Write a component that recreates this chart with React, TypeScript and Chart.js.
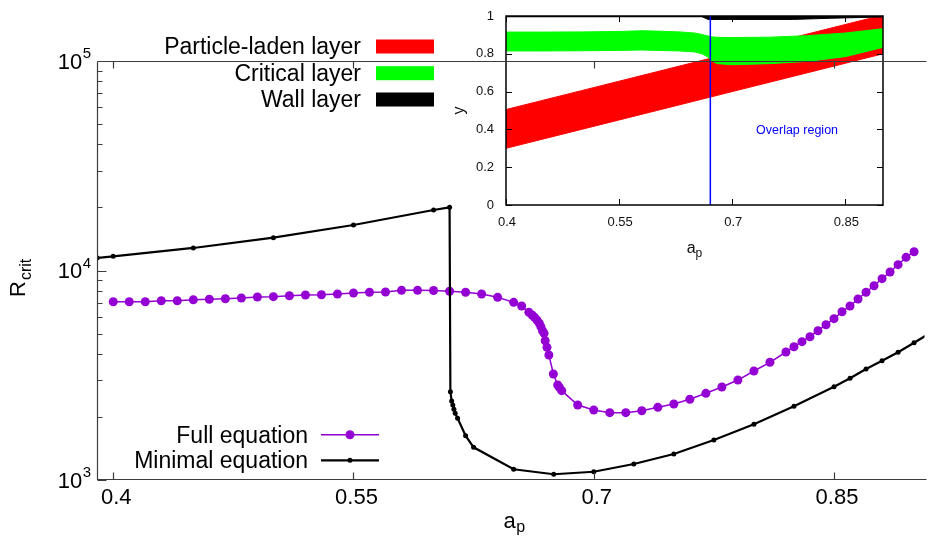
import React, { useEffect, useRef } from 'react';
import { Chart, registerables } from 'chart.js';

Chart.register(...registerables);

const FONT = '"Liberation Sans", Arial, Helvetica, sans-serif';

// ---------- main chart data ----------
const mainXTicks = [0.4, 0.55, 0.7, 0.85];
const mainYMajor = [1000, 10000, 100000];
const mainYMinor = [2000, 3000, 4000, 5000, 6000, 7000, 8000, 9000, 20000, 30000, 40000, 50000, 60000, 70000, 80000, 90000];

const fullX = [
  0.40, 0.41, 0.42, 0.43, 0.44, 0.45, 0.46, 0.47, 0.48, 0.49,
  0.50, 0.51, 0.52, 0.53, 0.54, 0.55, 0.56, 0.57, 0.58, 0.59,
  0.60, 0.61, 0.62, 0.63, 0.64, 0.65, 0.655, 0.6595, 0.6615, 0.663,
  0.6645, 0.666, 0.667, 0.668, 0.669, 0.6697, 0.6708, 0.672, 0.6748, 0.6775,
  0.6785, 0.68, 0.69, 0.70, 0.71, 0.72, 0.73, 0.74, 0.75, 0.76,
  0.77, 0.78, 0.79, 0.80, 0.81, 0.82, 0.825, 0.83, 0.835, 0.84,
  0.845, 0.85, 0.855, 0.86, 0.865, 0.87, 0.875, 0.88, 0.885, 0.89,
  0.895, 0.90,
];
const fullY = [
  7097, 7097, 7097, 7175, 7175, 7255, 7287, 7335, 7392, 7474,
  7499, 7580, 7638, 7665, 7723, 7808, 7870, 7895, 8043, 8043,
  8025, 7965, 7870, 7723, 7448, 7047, 6767, 6318, 6133, 5980,
  5803, 5598, 5393, 5160, 5013, 4623, 4299, 3951, 3206, 2841,
  2770, 2669, 2280, 2158, 2096, 2096, 2142, 2223, 2306, 2428,
  2593, 2780, 3000, 3313, 3646, 4083, 4328, 4573, 4831, 5160,
  5511, 5888, 6358, 6767, 7311, 7870, 8461, 9140, 9836, 10660,
  11560, 12290,
];

const minimalX = [
  0.39, 0.40, 0.45, 0.50, 0.55, 0.60, 0.61, 0.6105, 0.6113, 0.612,
  0.6127, 0.6135, 0.615, 0.62, 0.625, 0.65, 0.675, 0.70, 0.725, 0.75,
  0.775, 0.80, 0.825, 0.85, 0.86, 0.87, 0.88, 0.89, 0.90, 0.91,
];
const minimalY = [
  11480, 11690, 12810, 14340, 16490, 19450, 20030, 2640, 2383, 2280,
  2175, 2080, 1970, 1627, 1432, 1125, 1065, 1095, 1192, 1331,
  1552, 1845, 2250, 2788, 3058, 3387, 3712, 4070, 4523, 5030,
];

// ---------- inset data ----------
const insetXTicks = [0.4, 0.55, 0.7, 0.85];
const insetYTicks = [0, 0.2, 0.4, 0.6, 0.8, 1];

const particleX = [0.4, 0.5, 0.6, 0.7, 0.8, 0.9];
const particleLower = [0.30, 0.40, 0.50, 0.60, 0.70, 0.80];
const particleUpper = [0.505, 0.605, 0.705, 0.805, 0.905, 1.005];

const criticalX = [0.4, 0.45, 0.5, 0.55, 0.58, 0.6, 0.63, 0.65, 0.66, 0.667, 0.672, 0.68, 0.7, 0.75, 0.8, 0.85, 0.9];
const criticalLower = [0.815, 0.815, 0.816, 0.818, 0.82, 0.818, 0.815, 0.81, 0.80, 0.785, 0.765, 0.748, 0.742, 0.748, 0.76, 0.785, 0.834];
const criticalUpper = [0.915, 0.915, 0.916, 0.918, 0.922, 0.92, 0.916, 0.91, 0.902, 0.895, 0.89, 0.887, 0.886, 0.888, 0.896, 0.91, 0.933];

const wallX = [0.4, 0.66, 0.668, 0.78, 0.83, 0.9];
const wallLower = [0.996, 0.996, 0.982, 0.982, 0.988, 0.995];
const wallUpper = [1, 1, 1, 1, 1, 1];

const overlapX = 0.671;
const overlapLine = [0, 1];

const pts = (xs: number[], ys: number[]) => xs.map((x, i) => ({ x, y: ys[i] }));

const mainDecor = {
  id: 'mainDecor',
  afterDraw(chart: any) {
    const { ctx, chartArea: a, scales } = chart;
    const xs = scales.x;
    const ys = scales.y;
    ctx.save();
    ctx.strokeStyle = '#3c3c3c';
    ctx.lineWidth = 1.2;
    const top = Math.round(a.top) + 0.5;
    const bot = Math.round(a.bottom) - 0.5;
    const left = Math.round(a.left) - 0.5;
    ctx.beginPath();
    ctx.moveTo(left, top);
    ctx.lineTo(a.right + 2, top);
    ctx.moveTo(left, top);
    ctx.lineTo(left, bot);
    ctx.lineTo(a.right + 2, bot);
    for (const v of mainXTicks) {
      const px = Math.round(xs.getPixelForValue(v)) + 0.5;
      ctx.moveTo(px, bot);
      ctx.lineTo(px, bot - 7);
      ctx.moveTo(px, top);
      ctx.lineTo(px, top + 7);
    }
    for (const v of mainYMajor) {
      const py = Math.round(ys.getPixelForValue(v)) + 0.5;
      ctx.moveTo(left, py);
      ctx.lineTo(left + 9, py);
    }
    for (const v of mainYMinor) {
      const py = Math.round(ys.getPixelForValue(v)) + 0.5;
      ctx.moveTo(left, py);
      ctx.lineTo(left + 5, py);
    }
    ctx.stroke();

    // y tick labels 10^n
    ctx.fillStyle = '#000';
    ctx.textBaseline = 'alphabetic';
    ctx.textAlign = 'right';
    for (const v of mainYMajor) {
      const py = ys.getPixelForValue(v);
      const exp = String(Math.round(Math.log10(v)));
      const right = a.left - 7;
      ctx.font = `15px ${FONT}`;
      ctx.fillText(exp, right, py - 3);
      const w = ctx.measureText(exp).width;
      ctx.font = `22px ${FONT}`;
      ctx.fillText('10', right - w - 0.5, py + 7.5);
    }

    // y title R_crit
    ctx.save();
    ctx.translate(25, 297);
    ctx.rotate(-Math.PI / 2);
    ctx.textAlign = 'left';
    ctx.font = `22px ${FONT}`;
    ctx.fillText('R', 0, 0);
    const rw = ctx.measureText('R').width;
    ctx.font = `16px ${FONT}`;
    ctx.fillText('crit', rw + 1, 6);
    ctx.restore();

    // x title a_p
    ctx.textAlign = 'left';
    ctx.font = `22px ${FONT}`;
    const aw = ctx.measureText('a').width;
    ctx.font = `16px ${FONT}`;
    const pw = ctx.measureText('p').width;
    const cx = (a.left + a.right) / 2 + 3;
    const sx = cx - (aw + pw + 0.5) / 2;
    ctx.font = `22px ${FONT}`;
    ctx.fillText('a', sx, 528);
    ctx.font = `16px ${FONT}`;
    ctx.fillText('p', sx + aw + 0.5, 532);

    // inset legend (top-left)
    ctx.font = `23px ${FONT}`;
    ctx.textAlign = 'right';
    const layerLegend = [
      { t: 'Particle-laden layer', c: '#ff0000', b: 54 },
      { t: 'Critical layer', c: '#00ff00', b: 80.7 },
      { t: 'Wall layer', c: '#000000', b: 107 },
    ];
    for (const it of layerLegend) {
      ctx.fillStyle = '#000';
      ctx.fillText(it.t, 361, it.b);
      ctx.fillStyle = it.c;
      ctx.fillRect(376, it.b - 14.5, 58, 14);
    }

    // series legend (bottom-left)
    const seriesLegend = [
      { t: 'Full equation', c: '#9400d3', b: 442.7, lw: 1.5, r: 4.5 },
      { t: 'Minimal equation', c: '#000000', b: 468.3, lw: 2.2, r: 2.5 },
    ];
    for (const it of seriesLegend) {
      ctx.fillStyle = '#000';
      ctx.fillText(it.t, 308, it.b);
      const ly = it.b - 8;
      ctx.strokeStyle = it.c;
      ctx.lineWidth = it.lw;
      ctx.beginPath();
      ctx.moveTo(321, ly);
      ctx.lineTo(379, ly);
      ctx.stroke();
      ctx.fillStyle = it.c;
      ctx.beginPath();
      ctx.arc(350, ly, it.r, 0, Math.PI * 2);
      ctx.fill();
    }
    ctx.restore();
  },
};

const insetDecor = {
  id: 'insetDecor',
  afterDraw(chart: any) {
    const { ctx, chartArea: a, scales } = chart;
    const xs = scales.x;
    const ys = scales.y;
    ctx.save();
    ctx.strokeStyle = '#000';
    ctx.lineWidth = 1.5;
    ctx.strokeRect(a.left, a.top, a.right - a.left, a.bottom - a.top);
    ctx.lineWidth = 1;
    ctx.beginPath();
    for (const v of insetXTicks) {
      const px = Math.round(xs.getPixelForValue(v)) + 0.5;
      ctx.moveTo(px, a.bottom);
      ctx.lineTo(px, a.bottom - 6);
      ctx.moveTo(px, a.top);
      ctx.lineTo(px, a.top + 6);
    }
    for (const v of insetYTicks) {
      const py = Math.round(ys.getPixelForValue(v)) + 0.5;
      ctx.moveTo(a.left, py);
      ctx.lineTo(a.left + 6, py);
      ctx.moveTo(a.right, py);
      ctx.lineTo(a.right - 6, py);
    }
    ctx.stroke();

    // overlap label
    ctx.fillStyle = '#0000ff';
    ctx.font = `12.5px ${FONT}`;
    ctx.textAlign = 'center';
    ctx.textBaseline = 'middle';
    ctx.fillText('Overlap region', xs.getPixelForValue(0.786), ys.getPixelForValue(0.396));

    // titles
    ctx.fillStyle = '#111';
    ctx.textBaseline = 'alphabetic';
    ctx.save();
    ctx.translate(24, (a.top + a.bottom) / 2);
    ctx.rotate(-Math.PI / 2);
    ctx.textAlign = 'center';
    ctx.font = `16px ${FONT}`;
    ctx.fillText('y', 0, 0);
    ctx.restore();

    ctx.textAlign = 'left';
    ctx.font = `16px ${FONT}`;
    const aw = ctx.measureText('a').width;
    ctx.font = `12px ${FONT}`;
    const pw = ctx.measureText('p').width;
    const sx = (a.left + a.right) / 2 - (aw + pw) / 2;
    ctx.font = `16px ${FONT}`;
    ctx.fillText('a', sx, 253);
    ctx.font = `12px ${FONT}`;
    ctx.fillText('p', sx + aw, 256.5);
    ctx.restore();
  },
};

export default function App() {
  const mainRef = useRef<HTMLCanvasElement>(null);
  const insetRef = useRef<HTMLCanvasElement>(null);

  useEffect(() => {
    const main = new Chart(mainRef.current as HTMLCanvasElement, {
      type: 'line',
      data: {
        datasets: [
          {
            label: 'Full equation',
            data: pts(fullX, fullY),
            borderColor: '#9400d3',
            backgroundColor: '#9400d3',
            borderWidth: 1.5,
            pointRadius: 4.5,
            pointBorderWidth: 0,
            pointHoverRadius: 4.5,
            tension: 0,
            order: 2,
          },
          {
            label: 'Minimal equation',
            data: pts(minimalX, minimalY),
            borderColor: '#000000',
            backgroundColor: '#000000',
            borderWidth: 2.2,
            pointRadius: 2.5,
            pointBorderWidth: 0,
            pointHoverRadius: 2.5,
            tension: 0,
            order: 1,
          },
        ],
      },
      options: {
        animation: false,
        responsive: false,
        events: [],
        layout: { padding: { top: 61, left: 0, right: 0, bottom: 0 } },
        plugins: { legend: { display: false }, tooltip: { enabled: false }, title: { display: false } },
        scales: {
          x: {
            type: 'linear',
            min: 0.3905,
            max: 0.9065,
            grid: { display: false, drawTicks: false },
            border: { display: false },
            afterBuildTicks: (s: any) => { s.ticks = mainXTicks.map((v) => ({ value: v })); },
            afterFit: (s: any) => { s.height = 57; s.paddingLeft = 0; s.paddingRight = 0; },
            ticks: {
              padding: 5,
              labelOffset: 3,
              maxRotation: 0,
              autoSkip: false,
              color: '#000',
              font: { family: FONT, size: 22 },
              callback: (v: any) => String(v),
            },
          },
          y: {
            type: 'logarithmic',
            min: 1000,
            max: 100000,
            grid: { display: false, drawTicks: false },
            border: { display: false },
            afterBuildTicks: (s: any) => { s.ticks = [...mainYMajor, ...mainYMinor].sort((p, q) => p - q).map((v) => ({ value: v })); },
            afterFit: (s: any) => { s.width = 98; s.paddingTop = 0; s.paddingBottom = 0; },
            ticks: { display: false },
          },
        },
      },
      plugins: [mainDecor],
    } as any);

    const band = (label: string, xsArr: number[], lo: number[], hi: number[], color: string, order: number) => [
      {
        label: label + ' lower',
        data: pts(xsArr, lo),
        borderColor: color,
        backgroundColor: color,
        borderWidth: 1,
        pointRadius: 0,
        fill: false,
        tension: 0,
        order,
      },
      {
        label,
        data: pts(xsArr, hi),
        borderColor: color,
        backgroundColor: color,
        borderWidth: 1,
        pointRadius: 0,
        fill: '-1',
        tension: 0,
        order,
      },
    ];

    const inset = new Chart(insetRef.current as HTMLCanvasElement, {
      type: 'line',
      data: {
        datasets: [
          ...band('Particle-laden layer', particleX, particleLower, particleUpper, '#ff0000', 5),
          ...band('Critical layer', criticalX, criticalLower, criticalUpper, '#00ff00', 4),
          ...band('Wall layer', wallX, wallLower, wallUpper, '#000000', 3),
          {
            label: 'Overlap',
            data: overlapLine.map((y) => ({ x: overlapX, y })),
            borderColor: '#0000ff',
            borderWidth: 1.5,
            pointRadius: 0,
            fill: false,
            order: 1,
          },
        ],
      },
      options: {
        animation: false,
        responsive: false,
        events: [],
        layout: { padding: { top: 16, left: 0, right: 46, bottom: 0 } },
        plugins: { legend: { display: false }, tooltip: { enabled: false }, title: { display: false } },
        scales: {
          x: {
            type: 'linear',
            min: 0.4,
            max: 0.9,
            grid: { display: false, drawTicks: false },
            border: { display: false },
            afterBuildTicks: (s: any) => { s.ticks = insetXTicks.map((v) => ({ value: v })); },
            afterFit: (s: any) => { s.height = 65; s.paddingLeft = 0; s.paddingRight = 0; },
            ticks: {
              padding: 10,
              labelOffset: 1,
              maxRotation: 0,
              autoSkip: false,
              color: '#111',
              font: { family: FONT, size: 13 },
              callback: (v: any) => String(v),
            },
          },
          y: {
            type: 'linear',
            min: 0,
            max: 1,
            grid: { display: false, drawTicks: false },
            border: { display: false },
            afterBuildTicks: (s: any) => { s.ticks = insetYTicks.map((v) => ({ value: v })); },
            afterFit: (s: any) => { s.width = 66; s.paddingTop = 0; s.paddingBottom = 0; },
            ticks: {
              padding: 12,
              autoSkip: false,
              color: '#111',
              font: { family: FONT, size: 13 },
              callback: (v: any) => String(v),
            },
          },
        },
      },
      plugins: [insetDecor],
    } as any);

    return () => {
      main.destroy();
      inset.destroy();
    };
  }, []);

  return (
    <div style={{ position: 'fixed', left: 0, top: 0, width: 929, height: 537, background: '#fff', overflow: 'hidden' }}>
      <canvas ref={insetRef} width={489} height={270} style={{ position: 'absolute', left: 440, top: 0, width: 489, height: 270, zIndex: 1 }} />
      <canvas ref={mainRef} width={929} height={537} style={{ position: 'absolute', left: 0, top: 0, width: 929, height: 537, zIndex: 2 }} />
    </div>
  );
}
